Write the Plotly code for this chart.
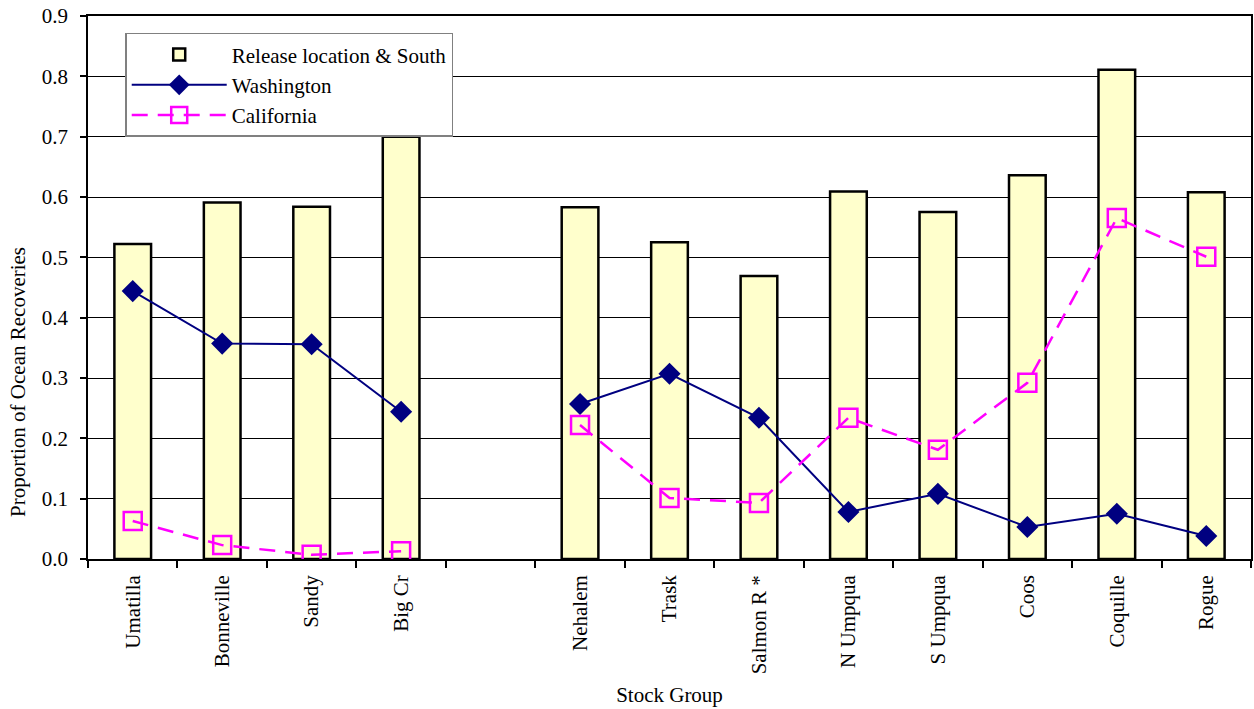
import plotly.graph_objects as go

categories = ["Umatilla", "Bonneville", "Sandy", "Big Cr", " ", "Nehalem", "Trask",
              "Salmon R *", "N Umpqua", "S Umpqua", "Coos", "Coquille", "Rogue"]
release_south = [0.522, 0.591, 0.584, 0.700, None, 0.583, 0.525, 0.469, 0.609, 0.575, 0.636, 0.811, 0.608]
washington = [0.444, 0.357, 0.356, 0.244, None, 0.257, 0.307, 0.234, 0.078, 0.108, 0.053, 0.075, 0.038]
california = [0.063, 0.023, 0.007, 0.013, None, 0.222, 0.101, 0.093, 0.234, 0.181, 0.292, 0.565, 0.501]
y_ticks = [0.0, 0.1, 0.2, 0.3, 0.4, 0.5, 0.6, 0.7, 0.8, 0.9]
y_ticktext = ["0.0", "0.1", "0.2", "0.3", "0.4", "0.5", "0.6", "0.7", "0.8", "0.9"]
y_title = "Proportion of Ocean Recoveries"
x_title = "Stock Group"

FONT = "Liberation Serif, Times New Roman, serif"

fig = go.Figure()
fig.add_trace(go.Bar(
    x=categories, y=release_south, name="Release location & South",
    width=0.41, marker=dict(color="#FFFFCC", line=dict(color="black", width=2.5)),
))
fig.add_trace(go.Scatter(
    x=categories, y=washington, name="Washington", mode="lines+markers",
    connectgaps=False,
    line=dict(color="#000080", width=2),
    marker=dict(symbol="diamond", size=17, color="#000080"),
))
fig.add_trace(go.Scatter(
    x=categories, y=california, name="California", mode="lines+markers",
    connectgaps=False,
    line=dict(color="#FF00FF", width=2.5, dash="16px,10px"),
    marker=dict(symbol="square-open", size=18, color="#FF00FF", line=dict(width=2.5, color="#FF00FF")),
))

fig.update_layout(
    width=1254, height=709,
    margin=dict(l=88, r=3, t=16, b=150, autoexpand=False),
    paper_bgcolor="white", plot_bgcolor="white",
    font=dict(family=FONT, size=21, color="black"),
    showlegend=True,
    legend=dict(
        x=0.032, y=0.969, xanchor="left", yanchor="top",
        bordercolor="#808080", borderwidth=1.5, bgcolor="white",
        font=dict(family=FONT, size=21), traceorder="normal",
        itemwidth=95, tracegroupgap=0,
    ),
    bargap=0.59,
    hovermode=False,
    annotations=[dict(
        text=y_title, textangle=-90, showarrow=False,
        xref="paper", yref="paper", x=-0.0602, y=0.326,
        xanchor="center", yanchor="middle",
        font=dict(family=FONT, size=21, color="black"),
    )],
)
fig.update_xaxes(
    type="category", categoryorder="array", categoryarray=categories,
    tickson="boundaries", ticks="outside", ticklen=7, tickwidth=1.5, tickcolor="black",
    tickangle=-90, showgrid=False,
    showline=True, linecolor="black", linewidth=1.5, mirror=True,
    ticklabelstandoff=6,
    title=dict(text=x_title, font=dict(family=FONT, size=21), standoff=14),
    range=[-0.5, 12.5],
)
fig.update_yaxes(
    range=[0, 0.9], tickvals=y_ticks, ticktext=y_ticktext,
    ticks="outside", ticklen=6, tickwidth=1.5, tickcolor="black",
    showgrid=True, gridcolor="black", gridwidth=1,
    showline=True, linecolor="black", linewidth=1.5, mirror=True,
    zeroline=False, ticklabelstandoff=8,
)

fig.write_html("out.html")
